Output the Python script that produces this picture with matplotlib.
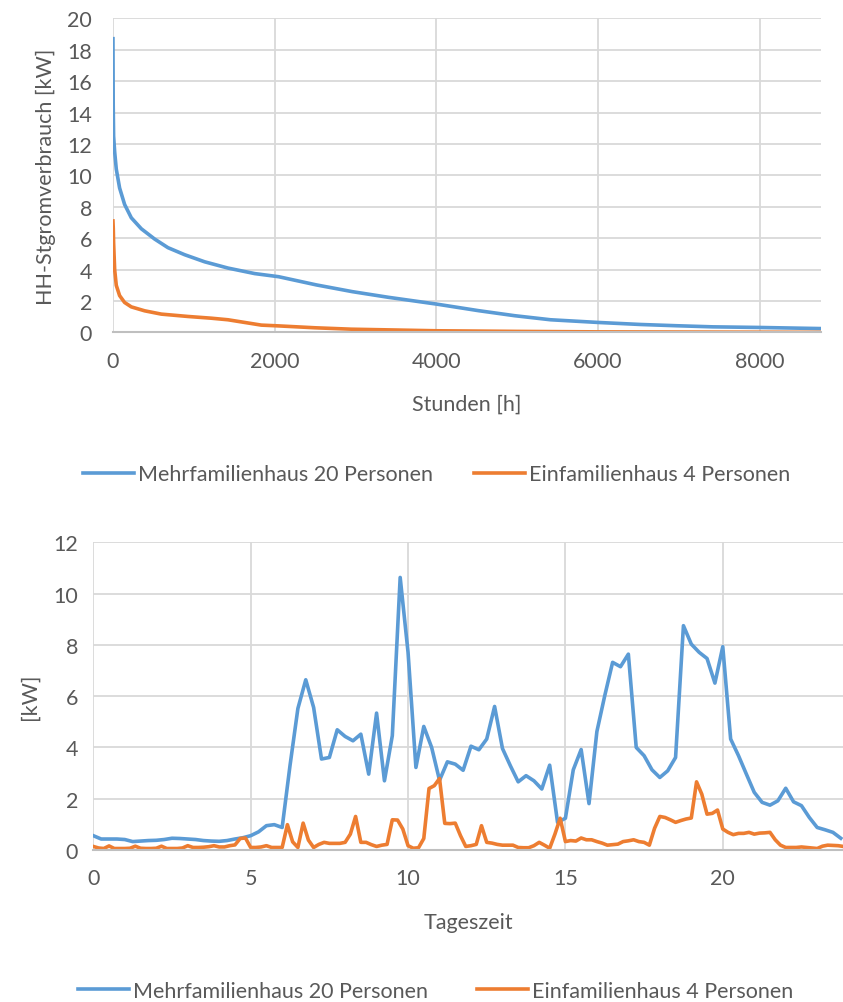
import matplotlib
matplotlib.use("Agg")
import matplotlib.pyplot as plt

plt.rcParams['font.family'] = ['Lato', 'DejaVu Sans']

mfh_hours = [0, 3, 8, 21, 41, 82, 144, 227, 351, 515, 680, 887, 1134, 1423, 1753, 2050,
             2515, 2961, 3407, 4000, 4522, 4968, 5414, 6000, 6528, 6974, 7420, 8000, 8760]
mfh_sorted = [18.7, 14.5, 12.5, 11.5, 10.4, 9.2, 8.15, 7.3, 6.6, 5.95, 5.4, 4.95, 4.5, 4.1,
              3.75, 3.55, 3.03, 2.6, 2.24, 1.81, 1.39, 1.07, 0.81, 0.64, 0.51, 0.43, 0.36, 0.32, 0.25]
efh_hours = [0, 4, 8, 21, 41, 82, 144, 227, 392, 598, 928, 1216, 1423, 1629, 1835, 2050,
             2500, 2950, 4000, 5000, 6000, 7000, 8000, 8760]
efh_sorted = [7.1, 6.6, 5.7, 4.0, 3.0, 2.35, 1.91, 1.63, 1.38, 1.17, 1.02, 0.91, 0.81, 0.64,
              0.47, 0.42, 0.3, 0.21, 0.11, 0.07, 0.04, 0.03, 0.02, 0.01]

# Tagesprofil: MFH in 15-min Schritten, EFH in 10-min Schritten
mfh_day = [0.56, 0.43, 0.43, 0.43, 0.41, 0.33, 0.35, 0.37, 0.38, 0.41, 0.46, 0.45, 0.43, 0.41, 0.37, 0.35,
           0.34, 0.37, 0.43, 0.48, 0.56, 0.71, 0.95, 0.99, 0.88, 3.3, 5.52, 6.64, 5.56, 3.55, 3.61, 4.69,
           4.43, 4.26, 4.52, 2.96, 5.34, 2.70, 4.46, 10.63, 7.71, 3.22, 4.82, 4.0, 2.72, 3.44, 3.35, 3.11,
           4.05, 3.91, 4.33, 5.60, 3.96, 3.29, 2.66, 2.90, 2.70, 2.38, 3.31, 1.08, 1.24, 3.13, 3.92, 1.81,
           4.62, 6.02, 7.32, 7.15, 7.64, 4.00, 3.68, 3.13, 2.83, 3.09, 3.61, 8.75, 8.03, 7.71, 7.47, 6.51,
           7.93, 4.33, 3.68, 2.96, 2.25, 1.86, 1.75, 1.92, 2.41, 1.88, 1.73, 1.27, 0.88, 0.79, 0.69, 0.46]
efh_day = [0.14, 0.08, 0.06, 0.16, 0.06, 0.06, 0.06, 0.07, 0.15, 0.07, 0.06, 0.06,
           0.07, 0.15, 0.06, 0.06, 0.06, 0.08, 0.17, 0.10, 0.10, 0.11, 0.13, 0.17,
           0.12, 0.12, 0.17, 0.20, 0.45, 0.47, 0.10, 0.10, 0.12, 0.17, 0.10, 0.10,
           0.10, 0.99, 0.32, 0.10, 1.05, 0.39, 0.10, 0.22, 0.30, 0.26, 0.26, 0.26,
           0.30, 0.62, 1.31, 0.30, 0.30, 0.21, 0.14, 0.19, 0.22, 1.18, 1.17, 0.82,
           0.17, 0.07, 0.09, 0.45, 2.40, 2.51, 2.79, 1.04, 1.03, 1.05, 0.56, 0.14,
           0.17, 0.22, 0.95, 0.30, 0.27, 0.22, 0.19, 0.19, 0.19, 0.10, 0.09, 0.09,
           0.17, 0.30, 0.19, 0.07, 0.62, 1.24, 0.33, 0.37, 0.35, 0.47, 0.40, 0.40,
           0.33, 0.27, 0.19, 0.21, 0.23, 0.33, 0.36, 0.40, 0.33, 0.30, 0.19, 0.85,
           1.31, 1.27, 1.18, 1.08, 1.15, 1.21, 1.25, 2.66, 2.18, 1.40, 1.43, 1.56,
           0.82, 0.69, 0.60, 0.65, 0.65, 0.69, 0.62, 0.66, 0.67, 0.69, 0.40, 0.19,
           0.10, 0.10, 0.10, 0.12, 0.10, 0.08, 0.06, 0.15, 0.19, 0.18, 0.17, 0.14]
mfh_time = [i * 0.25 for i in range(len(mfh_day))]
efh_time = [i / 6 for i in range(len(efh_day))]

labels = ["Mehrfamilienhaus 20 Personen", "Einfamilienhaus 4 Personen"]
blue = "#5b9bd5"
orange = "#ed7d31"
grid = "#d9d9d9"
txt = "#595959"
fs = 15.5

fig = plt.figure(figsize=(8.43, 10.03), dpi=100)
ax1 = fig.add_axes([0.134, 0.6675, 0.840, 0.3133])
ax2 = fig.add_axes([0.1107, 0.1515, 0.8893, 0.3068])


def style(ax):
    ax.grid(True, color=grid, linewidth=1.3)
    ax.set_axisbelow(True)
    for s in ["top", "right", "left"]:
        ax.spines[s].set_visible(False)
    ax.spines["bottom"].set_color("#bfbfbf")
    ax.spines["bottom"].set_linewidth(1.5)
    ax.tick_params(length=0, labelsize=fs, labelcolor=txt)


# oben: Dauerlinie
ax1.plot(mfh_hours, mfh_sorted, color=blue, lw=2.6, label=labels[0])
ax1.plot(efh_hours, efh_sorted, color=orange, lw=2.6, label=labels[1])
ax1.set_xlim(0, 8760)
ax1.set_ylim(0, 20)
ax1.set_xticks([0, 2000, 4000, 6000, 8000])
ax1.set_yticks(range(0, 21, 2))
style(ax1)
ax1.tick_params(axis="y", pad=15)
ax1.tick_params(axis="x", pad=13)
ax1.set_xlabel("Stunden [h]", fontsize=fs, color=txt, labelpad=17)
ax1.set_ylabel("HH-Stgromverbrauch [kW]", fontsize=fs, color=txt, labelpad=8)
ax1.legend(loc="center", bbox_to_anchor=(0.518, 0.526), bbox_transform=fig.transFigure,
           ncol=2, frameon=False, fontsize=fs, handlelength=2.35, handletextpad=0.2,
           columnspacing=1.9, labelcolor=txt)

# unten: Tagesprofil
ax2.plot(mfh_time, mfh_day, color=blue, lw=2.6, label=labels[0])
ax2.plot(efh_time, efh_day, color=orange, lw=2.6, label=labels[1])
ax2.set_xlim(0, 23.82)
ax2.set_ylim(0, 12)
ax2.set_xticks([0, 5, 10, 15, 20])
ax2.set_yticks(range(0, 13, 2))
style(ax2)
ax2.tick_params(axis="y", pad=11)
ax2.tick_params(axis="x", pad=13)
ax2.set_xlabel("Tageszeit", fontsize=fs, color=txt, labelpad=17)
ax2.set_ylabel("[kW]", fontsize=fs, color=txt, labelpad=10)
ax2.legend(loc="center", bbox_to_anchor=(0.517, 0.011), bbox_transform=fig.transFigure,
           ncol=2, frameon=False, fontsize=fs, handlelength=2.35, handletextpad=0.2,
           columnspacing=2.3, labelcolor=txt)

fig.savefig("out.png", dpi=100)
